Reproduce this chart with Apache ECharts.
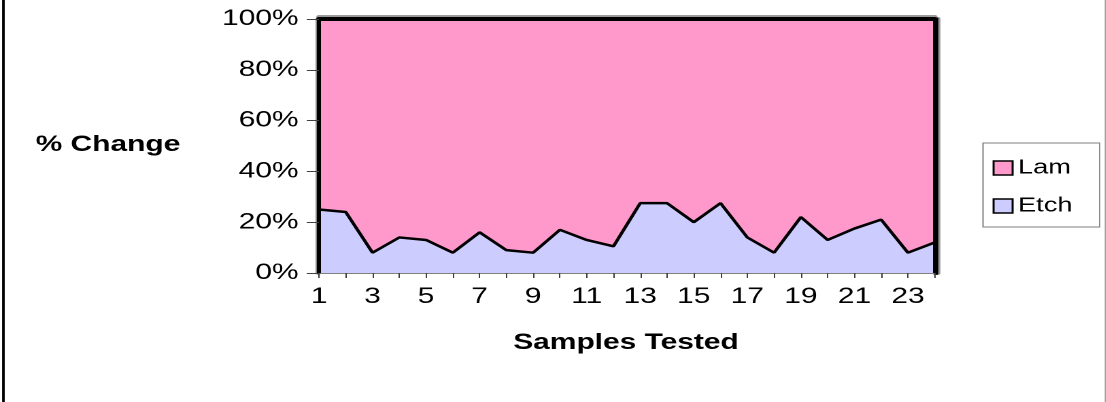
<!DOCTYPE html>
<html>
<head>
<meta charset="utf-8">
<script src="https://cdn.jsdelivr.net/npm/echarts@6.0.0/dist/echarts.min.js"></script>
<style>
  html, body { margin: 0; padding: 0; background: #fff; }
  #wrap { width: 1106px; height: 402px; overflow: hidden; position: relative; }
  #chart { width: 813.24px; height: 402px; transform: scaleX(1.36); transform-origin: 0 0; }
</style>
</head>
<body>
<div id="wrap"><div id="chart"></div></div>
<script>
// ---- data ----
const categories = ['1','2','3','4','5','6','7','8','9','10','11','12','13','14','15','16','17','18','19','20','21','22','23','24'];
const etchValues = [25, 24, 8, 14, 13, 8, 16, 9, 8, 17, 13, 10.5, 27.5, 27.5, 20, 27.5, 14, 8, 22, 13, 17.5, 21, 8, 12];
const lamValues  = [75, 76, 92, 86, 87, 92, 84, 91, 92, 83, 87, 89.5, 72.5, 72.5, 80, 72.5, 86, 92, 78, 87, 82.5, 79, 92, 88];
const yTickLabels = ['0%', '20%', '40%', '60%', '80%', '100%'];
const yAxisTitle = '% Change';
const xAxisTitle = 'Samples Tested';

const S = 1.36;             // horizontal stretch of the original picture
const W = 1106 / S;

const chart = echarts.init(document.getElementById('chart'), null, { renderer: 'canvas', devicePixelRatio: 2 });
const FONT = '"Liberation Sans", Arial, sans-serif';

chart.setOption({
  animation: false,
  backgroundColor: '#fff',
  textStyle: { fontFamily: FONT },
  grid: { left: 319 / S, right: (1106 - 935) / S, top: 19, bottom: 129, containLabel: false },
  legend: {
    orient: 'vertical',
    left: 983 / S, top: 143,
    padding: [15, 20, 11, 7],
    itemGap: 18,
    itemWidth: 14, itemHeight: 14,
    borderColor: '#808080', borderWidth: 1,
    backgroundColor: '#fff',
    icon: 'rect',
    data: [
      { name: 'Lam', itemStyle: { color: '#FF99CC', borderColor: '#000', borderWidth: 1.5 } },
      { name: 'Etch', itemStyle: { color: '#CCCCFF', borderColor: '#000', borderWidth: 1.5 } }
    ],
    textStyle: { fontSize: 20, color: '#000', fontFamily: FONT, padding: [0, 0, 0, -1] }
  },
  xAxis: [
    {
      type: 'category', data: categories, boundaryGap: false, position: 'bottom', z: 5,
      axisLine: { show: true, onZero: false, lineStyle: { color: '#808080', width: 1 } },
      axisTick: { show: true, interval: 0, length: 5, lineStyle: { color: '#404040', width: 1 } },
      axisLabel: { interval: 1, margin: 13, fontSize: 22, color: '#000', fontFamily: FONT },
      splitLine: { show: false }
    },
    {
      type: 'category', data: categories, boundaryGap: false, position: 'top', z: 5,
      axisLine: { show: true, onZero: false, lineStyle: { color: '#000', width: 4, shadowColor: '#9a9a9a', shadowOffsetY: -2, shadowBlur: 0 } },
      axisTick: { show: false }, axisLabel: { show: false }, splitLine: { show: false }
    }
  ],
  yAxis: [
    {
      type: 'value', min: 0, max: 100, interval: 20, position: 'left', z: 5,
      axisLine: { show: true, onZero: false, lineStyle: { color: '#000', width: 3, shadowColor: '#8a8a8a', shadowOffsetX: -1, shadowBlur: 0 } },
      axisTick: { show: true, length: 9, lineStyle: { color: '#404040', width: 1 } },
      axisLabel: {
        margin: 15, fontSize: 22, color: '#000', fontFamily: FONT,
        formatter: function (v) { return yTickLabels[Math.round(v / 20)]; }
      },
      splitLine: { show: false }
    },
    {
      type: 'value', min: 0, max: 100, interval: 20, position: 'right', z: 5,
      axisLine: { show: true, onZero: false, lineStyle: { color: '#000', width: 4, shadowColor: '#9a9a9a', shadowOffsetX: 1.5, shadowBlur: 0 } },
      axisTick: { show: false }, axisLabel: { show: false }, splitLine: { show: false }
    }
  ],
  graphic: [
    { type: 'line', shape: { x1: 3.4 / S, y1: 0, x2: 3.4 / S, y2: 402 }, style: { stroke: '#000', lineWidth: 2.6 / S } },
    { type: 'line', shape: { x1: 1105.3 / S, y1: 0, x2: 1105.3 / S, y2: 402 }, style: { stroke: '#a0a0a0', lineWidth: 1.2 / S } },
    { type: 'text', x: 108 / S, y: 145, style: { text: yAxisTitle, font: 'bold 22px ' + FONT, fill: '#000', align: 'center', verticalAlign: 'middle' } },
    { type: 'text', x: 626 / S, y: 343, style: { text: xAxisTitle, font: 'bold 22px ' + FONT, fill: '#000', align: 'center', verticalAlign: 'middle' } }
  ],
  series: [
    {
      name: 'Etch', type: 'line', stack: 'total', data: etchValues, symbol: 'none',
      xAxisIndex: 0, yAxisIndex: 0, z: 2,
      lineStyle: { color: '#000', width: 2.5 },
      areaStyle: { color: '#CCCCFF', opacity: 1 },
      itemStyle: { color: '#CCCCFF' }
    },
    {
      name: 'Lam', type: 'line', stack: 'total', data: lamValues, symbol: 'none',
      xAxisIndex: 0, yAxisIndex: 0, z: 1,
      lineStyle: { width: 0, opacity: 0 },
      areaStyle: { color: '#FF99CC', opacity: 1 },
      itemStyle: { color: '#FF99CC' }
    }
  ]
});
</script>
</body>
</html>
